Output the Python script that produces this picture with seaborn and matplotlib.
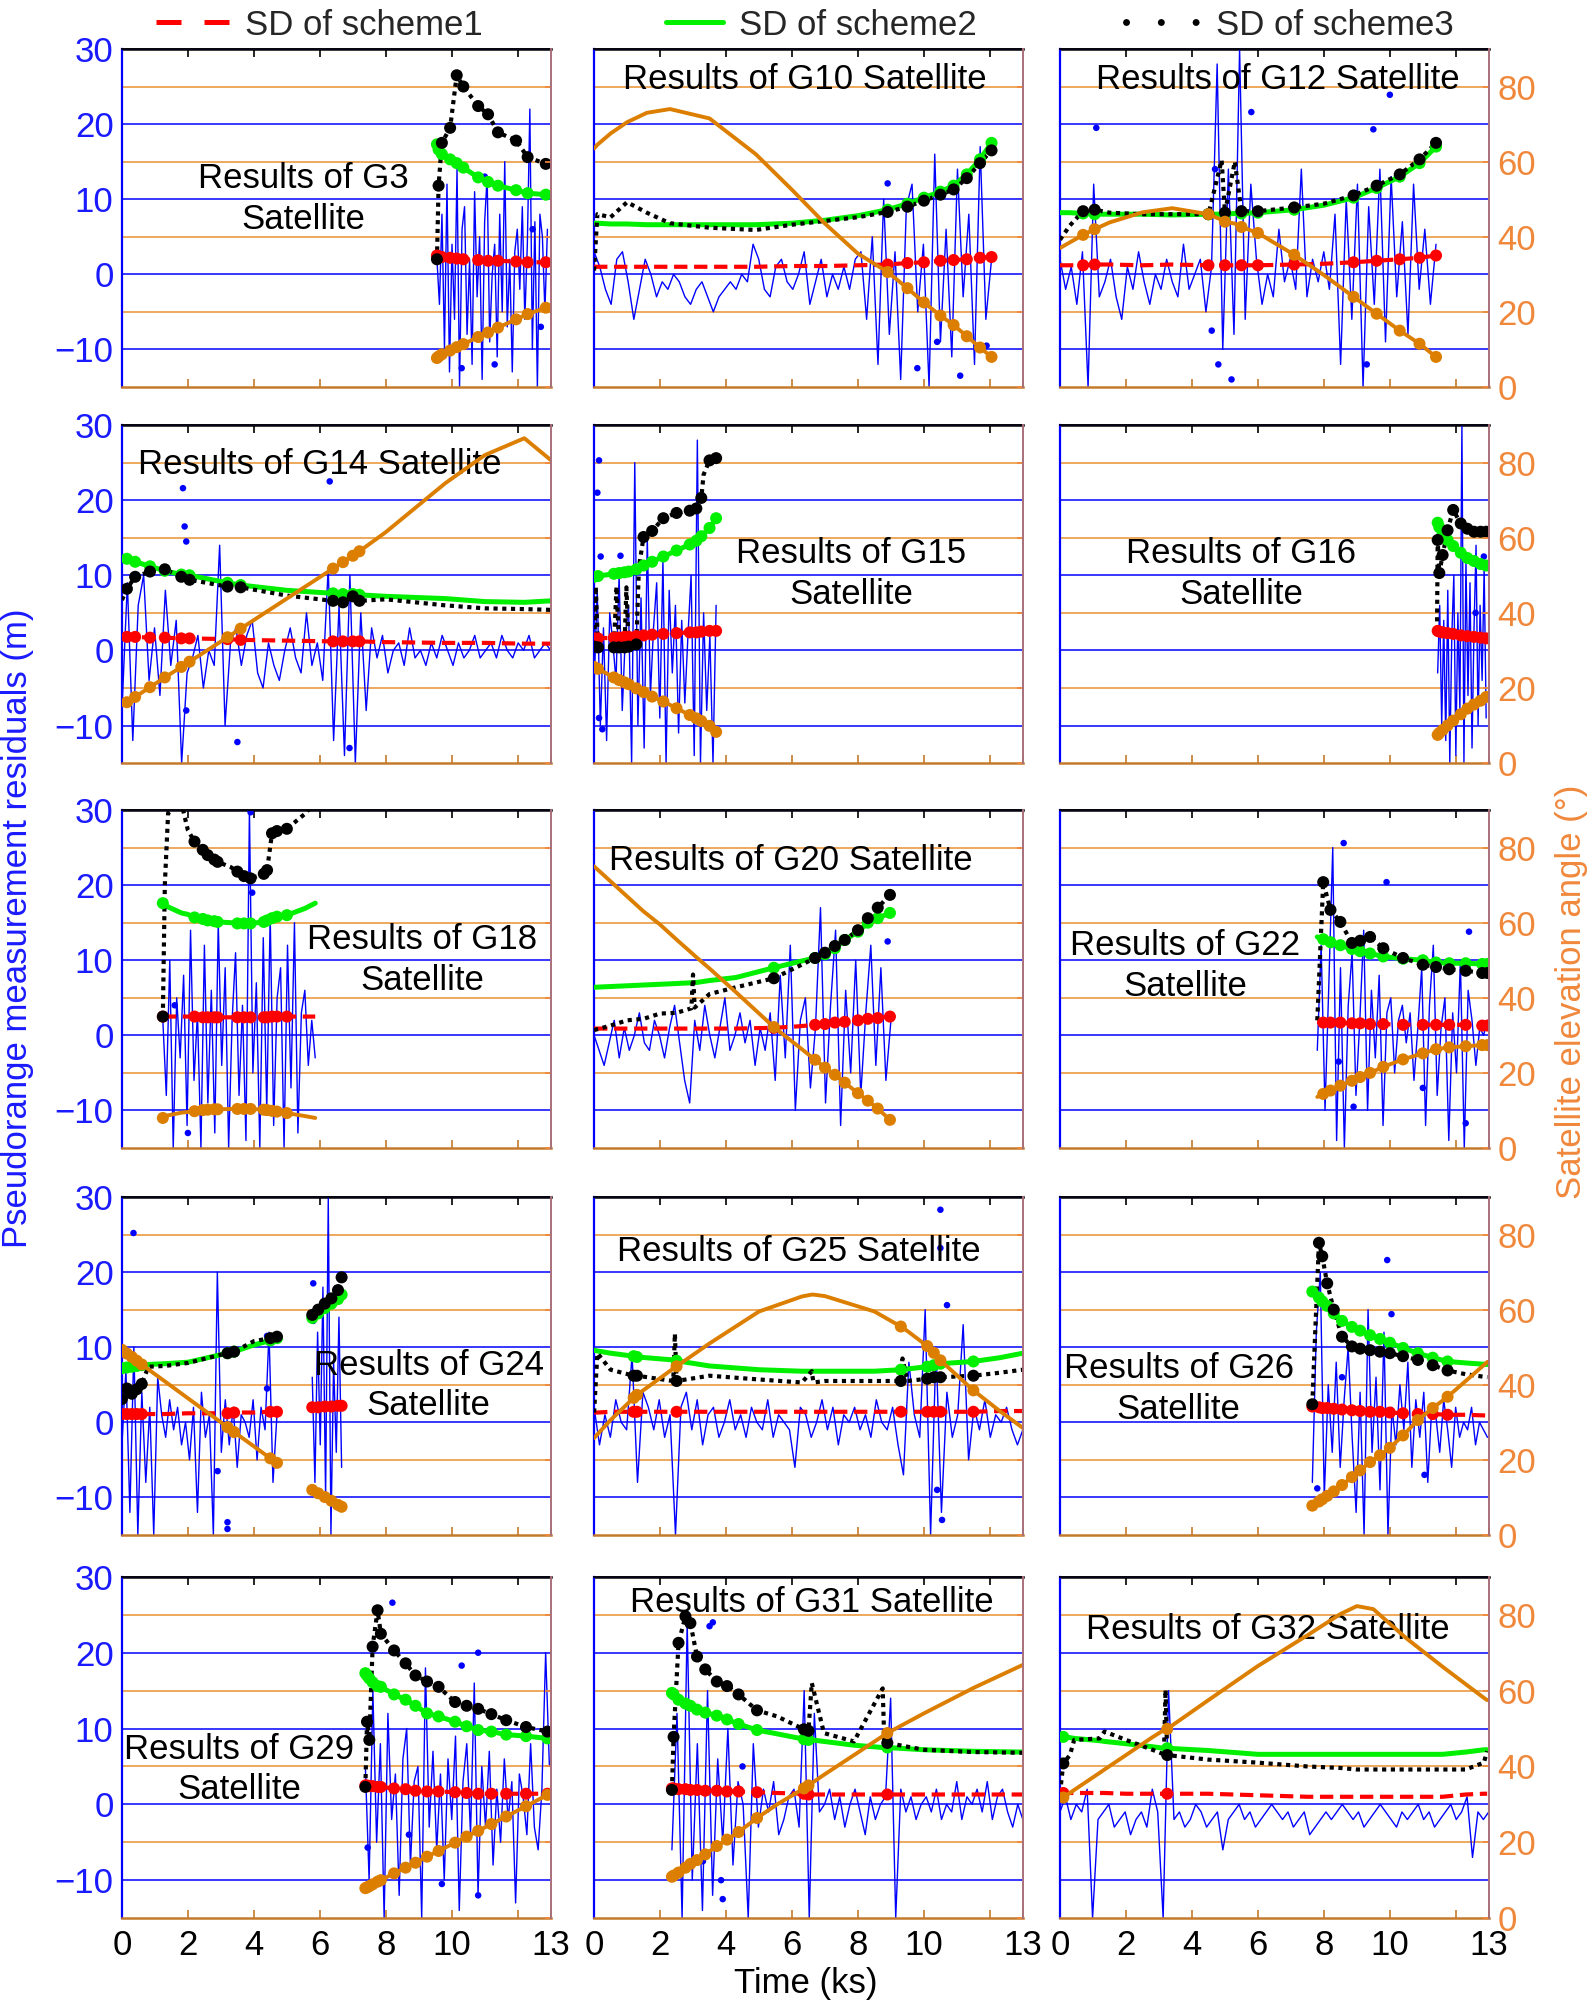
import numpy as np
import matplotlib
matplotlib.use("Agg")
import matplotlib.pyplot as plt
from matplotlib.lines import Line2D
import seaborn as sns

# ---------------------------------------------------------------- data
# knot times (ks) shared by SD curves + elevation
g3_t = [9.55, 9.6, 9.7, 9.95, 10.15, 10.35, 10.8, 11.1, 11.4, 11.95, 12.3, 12.85]
g3_sd1 = [2.5, 2.4, 2.3, 2.2, 2.1, 2.0, 1.9, 1.8, 1.8, 1.7, 1.6, 1.6]
g3_sd2 = [17.3, 16.6, 16.0, 15.3, 14.8, 14.2, 12.9, 12.3, 11.8, 11.2, 10.8, 10.6]
g3_sd3 = [2.0, 11.8, 17.5, 19.5, 26.5, 25.0, 22.4, 21.3, 18.9, 17.8, 15.6, 14.7]
g3_el = [7.7, 8.1, 8.7, 9.7, 10.6, 11.4, 13.3, 14.5, 15.8, 18.0, 19.4, 21.1]
g3_mk = [0, 1, 2, 3, 4, 5, 6, 7, 8, 9, 10, 11]
g3_span = (9.55, 12.9)
g3_res = [2, -4, 8, -10, 12, -13, 4, -6, 14, -15, 6, 9, -8, 2, -12, 11, -3, 5, -14, 7, 13,
          -9, 0, 4, -11, 8, -5, 15, -7, 2, -13, 3, 6, -2, 9, -6, 4, 22, -10, 7, -15, 8, 5, -5, 6]
g3_out_t = [10.3, 11.3, 12.45, 12.7, 11.0]
g3_out_v = [-12.5, -12.0, 6.0, -7.0, 13.0]

g10_t = [0, 0.1, 0.5, 1.0, 1.6, 2.3, 3.5, 4.9, 6.0, 7.0, 8.0, 8.9, 9.5, 10.0, 10.5, 10.9, 11.3, 11.7, 12.05]
g10_sd1 = [1.0, 1.0, 1.0, 1.0, 1.0, 1.0, 1.0, 1.0, 1.1, 1.1, 1.2, 1.3, 1.5, 1.6, 1.8, 1.9, 2.0, 2.2, 2.3]
g10_sd2 = [6.8, 6.8, 6.7, 6.7, 6.6, 6.6, 6.6, 6.6, 6.8, 7.2, 7.8, 8.6, 9.4, 10.2, 11.0, 11.8, 13.3, 15.3, 17.5]
g10_sd3 = [0.5, 8.0, 7.6, 9.6, 8.2, 6.8, 6.2, 5.9, 6.6, 7.1, 7.6, 8.3, 9.0, 9.8, 10.6, 11.3, 12.8, 14.8, 16.5]
g10_el = [63.5, 64.5, 67.5, 70.5, 73, 74, 71.5, 62, 52.5, 43.5, 35.5, 30.6, 26.3, 22.5, 19, 16.5, 13.5, 10.5, 8]
g10_mk = [11, 12, 13, 14, 15, 16, 17, 18]
g10_span = (0.0, 12.05)
g10_res = [3, 1, -2, -4, 2, 3, -1, -6, -2, 2, 0, -3, -1,
           -2, 0, -1, -3, -4, -2, -1, -3, -5, -3, -2, -1, -2, 0, -1, 4, 2, -2, -3, 1, 2, -1,
           -2, 0, 3, -4, -1, 2, -3, 0, -2, 1, -2, 2, 3,
           -6, 5, -12, 10, -8, 3, -14, 9, 12, -5, 4, -15, 16, -9, 6, -11, 14, -3, 8, -12, 17, -6, 2]
g10_out_t = [8.9, 9.8, 11.1, 11.9, 10.4]
g10_out_v = [12.1, -12.5, -13.5, -9.5, -9.0]

g12_t = [0, 0.3, 0.7, 1.05, 1.5, 2.5, 3.4, 4.5, 4.9, 5.0, 5.3, 5.5, 6.0, 7.1, 8.0, 8.9, 9.6, 10.3, 10.9, 11.4]
g12_sd1 = [1.2, 1.2, 1.2, 1.3, 1.3, 1.2, 1.3, 1.2, 1.2, 1.2, 1.2, 1.2, 1.2, 1.3, 1.4, 1.6, 1.8, 2.0, 2.2, 2.5]
g12_sd2 = [8.2, 8.2, 8.1, 8.0, 8.0, 8.0, 7.9, 8.0, 8.0, 8.0, 8.1, 8.1, 8.2, 8.6, 9.2, 10.2, 11.5, 13.0, 14.8, 17.0]
g12_sd3 = [4.6, 6.5, 8.4, 8.6, 8.2, 8.0, 8.0, 8.0, 15.2, 8.2, 15.0, 8.4, 8.4, 8.9, 9.4, 10.5, 11.8, 13.3, 15.3, 17.5]
g12_el = [37, 38.5, 40.5, 42, 43.8, 46.5, 47.6, 46, 44.5, 44, 43.5, 42.6, 41, 35.2, 29.8, 24, 19.5, 15, 11.5, 8]
g12_mk = [2, 3, 7, 9, 11, 12, 13, 15, 16, 17, 18, 19]
g12_span = (0.0, 11.4)
g12_res = [2, -2, 1, -4, 3, -15, 12, -3, -1, 2, -3, -6, 1, -2, 3, -1, -4, 0, -2, 2, -1, -3, 4, -2,
           0, 2, -5, 1, 28, -10, 14, -8, 30, -6, 12, 2, -4, 0, -3, 6, -1, 2, -2, 14, -3, 2, -1, 3,
           -2, 8, -12, 10, -6, 12, -15, 9, -4, 14, -9, 13, -3, 7, -8, 12, -2, 6, -4, 4]
g12_out_t = [1.1, 4.7, 5.8, 9.5, 10.0, 4.6, 4.8, 5.2, 9.3]
g12_out_v = [19.5, 14.0, 21.6, 19.3, 23.9, -7.5, -12.0, -14.0, -12.0]

g14_t = [0, 0.15, 0.4, 0.85, 1.3, 1.8, 2.05, 3.2, 3.6, 5.0, 6.4, 6.7, 7.0, 7.2, 8.0, 9.8, 11.0, 12.2, 13.0]
g14_sd1 = [1.8, 1.8, 1.8, 1.7, 1.7, 1.6, 1.6, 1.5, 1.4, 1.3, 1.2, 1.2, 1.2, 1.2, 1.1, 1.0, 1.0, 0.9, 0.9]
g14_sd2 = [12.4, 12.2, 11.8, 11.2, 10.6, 10.1, 10.0, 9.0, 8.7, 8.0, 7.6, 7.5, 7.5, 7.4, 7.2, 6.9, 6.5, 6.4, 6.6]
g14_sd3 = [6.7, 8.2, 9.8, 10.5, 10.8, 9.8, 9.4, 8.5, 8.4, 7.3, 6.6, 6.4, 7.2, 6.6, 6.8, 6.0, 5.6, 5.5, 5.4]
g14_el = [15.4, 16.2, 17.6, 20.2, 22.8, 25.6, 27.0, 33.5, 35.8, 43.8, 51.8, 53.5, 55.2, 56.4, 61.5, 74.5, 82, 86.5, 80.7]
g14_mk = [1, 2, 3, 4, 5, 6, 7, 8, 10, 11, 12, 13]
g14_span = (0.0, 13.0)
g14_res = [-8, 9, -12, 6, 10, -4, 3, -6, 8, -2, 4, -15,
           -3, -1, 2, -5, 0, -2, 14, -10, 1, 3, -2, 2, 4, -3, -5, 1, -2, -4, 0, 3, -1, -3, 5, -2, 1, -4,
           11, -12, 6, -14, 10, -15, 5, -8, 3,
           -1, 2, -3, 0, 1, -2, 3, -1, 0, -2, 1, -1, 2, 0, -2, 1, -1, 0, 2, -1, 0, 1, -1, 2, 0, -1, 1,
           0, 2, -1, 0, 1, 0]
g14_out_t = [1.85, 1.9, 1.95, 6.3, 3.5, 1.95, 6.9]
g14_out_v = [21.6, 16.5, 14.5, 22.5, -12.2, -8.0, -13.0]

g15_t = [0.0, 0.05, 0.12, 0.6, 0.68, 0.76, 0.92, 0.98, 1.05, 1.28, 1.36, 1.5, 1.76, 2.1, 2.5, 2.9, 3.1,
         3.25, 3.32, 3.5, 3.7]
g15_sd1 = [1.6, 1.6, 1.6, 1.7, 1.7, 1.7, 1.8, 1.8, 1.8, 1.9, 1.9, 2.0, 2.1, 2.2, 2.3, 2.4, 2.4, 2.5, 2.5, 2.6, 2.6]
g15_sd2 = [9.8, 9.8, 9.9, 10.2, 10.3, 10.3, 10.4, 10.5, 10.5, 10.8, 11.0, 11.3, 11.8, 12.5, 13.3, 14.1, 14.6,
           15.2, 15.5, 16.3, 17.6]
g15_sd3 = [0.5, 8.5, 0.4, 0.4, 8.5, 0.4, 0.4, 8.4, 0.5, 0.8, 11.1, 15.1, 15.9, 17.6, 18.3, 18.6, 18.9, 20.3,
           23.4, 25.3, 25.6]
g15_el = [25.6, 25.4, 25.1, 22.8, 22.4, 22.1, 21.5, 21.2, 21.0, 19.9, 19.6, 18.9, 17.7, 16.4, 14.6, 12.8, 11.9,
          11.2, 10.9, 9.9, 8.3]
g15_mk = [0, 2, 3, 5, 6, 8, 9, 11, 12, 13, 14, 15, 16, 17, 19, 20]
g15_span = (0.0, 3.7)
g15_res = [-5, 8, -10, 3, -12, 5, 1, -4, 10, -8, 2, 6, -15, 25, -10, 7, -13, 15, -6, 3, 9, -9, 12, -15,
           8, -3, 6, -11, 4, -7, 2, 10, -14, 28, -15, 5, -8, 2, -15, 6]
g15_out_t = [0.15, 0.1, 0.2, 0.8, 0.15, 0.25]
g15_out_v = [25.3, 21.0, 12.5, 12.6, -9.0, -10.5]

g16_t = [11.43, 11.45, 11.5, 11.6, 11.75, 11.92, 12.15, 12.35, 12.55, 12.75, 12.92]
g16_sd1 = [2.7, 2.6, 2.5, 2.4, 2.3, 2.2, 2.0, 1.9, 1.8, 1.7, 1.6]
g16_sd2 = [17.2, 17.0, 16.4, 15.5, 14.7, 13.9, 13.0, 12.3, 11.9, 11.5, 11.3]
g16_sd3 = [2.7, 14.7, 10.3, 12.7, 16.0, 18.7, 16.9, 16.2, 15.8, 15.8, 15.8]
g16_el = [7.3, 7.5, 8.0, 8.8, 10.0, 11.3, 13.0, 14.5, 15.6, 16.6, 17.6]
g16_mk = [1, 2, 3, 4, 5, 6, 7, 8, 9, 10]
g16_span = (11.45, 12.92)
g16_res = [-3, 6, -10, 4, -12, 8, -15, 2, 10, -14, 5, -8, 30, -15, 12, -6, 9, -13, 3, 14, -10, 6, -4, 11, -9]
g16_out_t = [12.85, 12.6]
g16_out_v = [12.5, 5.0]

g18_t = [1.24, 1.3, 1.4, 1.8, 2.0, 2.2, 2.45, 2.6, 2.8, 2.9, 3.3, 3.5, 3.7, 3.9, 4.3, 4.4, 4.55, 4.7, 5.0,
         5.55, 5.86]
g18_sd1 = [2.5, 2.5, 2.5, 2.5, 2.5, 2.5, 2.4, 2.4, 2.4, 2.4, 2.4, 2.4, 2.4, 2.4, 2.4, 2.4, 2.5, 2.5, 2.5, 2.5, 2.5]
g18_sd2 = [17.6, 17.4, 17.1, 16.3, 16.1, 15.7, 15.5, 15.3, 15.2, 15.1, 15.0, 14.9, 14.9, 14.9, 15.1, 15.3,
           15.6, 15.8, 16.0, 16.9, 17.6]
g18_sd3 = [2.5, 20, 29.6, 31, 27.3, 25.8, 24.7, 24.0, 23.4, 23.1, 22.4, 21.8, 21.2, 20.9, 21.5, 22.0, 26.9,
           27.2, 27.5, 29.5, 31]
g18_el = [8.0, 8.3, 8.7, 9.4, 9.6, 9.8, 10.1, 10.2, 10.3, 10.3, 10.4, 10.4, 10.4, 10.4, 10.2, 10.1, 9.9, 9.7,
          9.3, 8.5, 8.0]
g18_mk = [0, 5, 6, 7, 8, 9, 11, 12, 13, 14, 15, 16, 17, 18]
g18_span = (1.24, 5.86)
g18_res = [2, -8, 10, -15, 5, -3, 8, -12, 14, -6, 3, -15, 12, -9, 6, -13, 15, -4, 9, -15, 2, 11, -8, 4,
           -14, 30, -5, 7, -15, 13, -10, 16, -12, 5, 9, -15, 12, -7, 15, -13, 3, 6, -4, 2, -3]
g18_out_t = [3.9, 3.95, 1.6, 2.0]
g18_out_v = [29.7, 19.0, 4.0, -13.0]

g20_t = [0, 0.5, 1.0, 1.5, 2.0, 2.5, 2.95, 3.0, 3.05, 3.5, 4.3, 5.45, 6.2, 6.7, 7.0, 7.3, 7.6, 8.0, 8.3, 8.6, 8.97]
g20_sd1 = [0.9, 0.9, 0.9, 0.9, 0.9, 0.9, 0.9, 0.9, 0.9, 0.9, 0.9, 1.0, 1.2, 1.4, 1.5, 1.7, 1.8, 2.0, 2.2, 2.3, 2.5]
g20_sd2 = [6.4, 6.5, 6.6, 6.7, 6.8, 6.9, 7.0, 7.0, 7.0, 7.3, 7.7, 9.0, 9.8, 10.3, 10.8, 11.6, 12.7, 13.8,
           15.0, 15.6, 16.3]
g20_sd3 = [0.7, 1.3, 2.0, 2.2, 2.9, 3.0, 3.6, 8.1, 3.7, 5.5, 6.4, 7.6, 9.2, 10.3, 11.0, 11.9, 12.7, 14.0,
           15.6, 17.0, 18.7]
g20_el = [75, 71, 67, 63, 59.5, 55.5, 52, 51.6, 51.2, 47.8, 41.5, 32.2, 27, 23.5, 21.4, 19.5, 17.4, 14.6,
          12.6, 10.5, 7.5]
g20_mk = [11, 13, 14, 15, 16, 17, 18, 19, 20]
g20_span = (0.0, 9.0)
g20_res = [0, -2, -4, -1, 2, -3, 1, -2, 0, 3, -1, -2, 2, 0, -3, 1, 4, -1, -6, -9, 2, -2, 4, 0, -3, 1, 5,
           -2, 0, 3, -1, 2, -4, 1, -2, 3,
           -6, 8, -3, 12, -10, 2, 5, -7, 1, 17, -9, 4, 14, -12, 6, -5, 10, -8, 3, 12, -4, 9, -6, 2]
g20_out_t = [8.9]
g20_out_v = [12.5]

g22_t = [7.8, 7.98, 8.2, 8.5, 8.85, 9.1, 9.4, 9.8, 10.4, 11.0, 11.4, 11.8, 12.3, 12.8, 12.96]
g22_sd1 = [1.8, 1.7, 1.7, 1.7, 1.6, 1.6, 1.5, 1.5, 1.4, 1.4, 1.4, 1.4, 1.4, 1.3, 1.3]
g22_sd2 = [13.1, 12.8, 12.4, 12.0, 11.5, 11.2, 10.9, 10.5, 10.2, 10.0, 9.7, 9.6, 9.6, 9.5, 9.5]
g22_sd3 = [2.0, 20.4, 16.7, 15.1, 12.3, 12.6, 13.1, 11.6, 10.3, 9.4, 9.1, 8.8, 8.6, 8.3, 8.3]
g22_el = [13.6, 14.4, 15.3, 16.6, 17.9, 18.9, 20.0, 21.6, 23.6, 25.2, 26.3, 26.8, 27.1, 27.4, 27.4]
g22_mk = [1, 2, 3, 4, 5, 6, 7, 8, 9, 10, 11, 12, 13, 14]
g22_span = (7.8, 12.96)
g22_res = [-2, 12, -10, 7, 25, -14, 9, -15, 4, 11, -8, 2, 14, -10, 6, -3, 8, -12, 3, 5, -5, 2, 4, -1, 3,
           -6, 1, 9, -12, 4, 12, -8, 1, 5, -14, 3, -5, 10, -15, 6, 2, -4, 1, 0, 2]
g22_out_t = [8.6, 9.9, 12.4, 8.45, 11.0, 12.3, 8.9]
g22_out_v = [25.6, 20.4, 13.8, -3.5, -7.0, -11.7, -9.5]

nan = float("nan")
g24_t = [0, 0.15, 0.3, 0.45, 0.6, 0.8, 1.3, 2.0, 3.0, 3.2, 3.4, 4.0, 4.5, 4.7, nan,
         5.77, 5.95, 6.15, 6.35, 6.55, 6.66]
g24_sd1 = [1.1, 1.1, 1.1, 1.1, 1.1, 1.1, 1.1, 1.2, 1.2, 1.2, 1.3, 1.3, 1.4, 1.4, nan, 2.0, 2.0, 2.1, 2.1, 2.2, 2.2]
g24_sd2 = [7.2, 7.3, 7.4, 7.5, 7.6, 7.7, 7.8, 8.0, 9.0, 9.2, 9.4, 10.3, 10.9, 11.2, nan,
           13.9, 14.5, 15.2, 15.8, 16.4, 17.0]
g24_sd3 = [3.1, 4.5, 3.8, 4.4, 5.1, 7.4, 7.5, 7.9, 9.0, 9.2, 9.4, 10.8, 11.2, 11.4, nan,
           14.3, 15.0, 15.8, 16.5, 17.6, 19.3]
g24_el = [49.3, 48.3, 47.4, 46.4, 45.4, 44.1, 40.9, 36.4, 30.0, 28.7, 27.4, 23.6, 20.4, 19.2, nan,
          12.0, 11.1, 10.1, 9.1, 8.0, 7.5]
g24_mk = [0, 1, 2, 3, 4, 9, 10, 12, 13, 15, 16, 17, 18, 19, 20]
g24_span_a = (0.0, 4.7)
g24_res_a = [-3, 7, -12, 10, -15, 4, -8, 2, -15, 6, 1, -2, 3, -1, 2, -3, 0, -5, 2, -12, 4, -2, 1, -15, 20,
             -4, 3, -3, 2, -6, 1, 0, -2, 3, -5, 2, -1, 12, -8, 1]
g24_span_b = (5.77, 6.66)
g24_res_b = [6, -8, 12, -3, 18, -10, 30, -15, 8, -4, 14, -6]
g24_out_t = [0.35, 4.4, 4.4, 3.2, 3.2, 5.8, 5.8, 2.9]
g24_out_v = [25.2, 11.5, 4.5, -13.3, -14.2, 18.5, 13.5, -6.5]

g25_t = [0, 0.1, 0.5, 1.2, 1.3, 2.4, 2.45, 2.5, 3.5, 5.0, 6.3, 6.6, 6.65, 7.0, 8.5, 9.3, 9.35, 9.5, 10.1,
         10.3, 10.5, 11.5, 12.3, 13.0]
g25_sd1 = [1.3, 1.3, 1.4, 1.4, 1.4, 1.4, 1.4, 1.4, 1.4, 1.4, 1.4, 1.4, 1.4, 1.4, 1.4, 1.4, 1.4, 1.4, 1.4,
           1.4, 1.4, 1.4, 1.5, 1.5]
g25_sd2 = [9.6, 9.5, 9.2, 8.8, 8.7, 8.3, 8.3, 8.2, 7.5, 7.0, 6.8, 6.8, 6.8, 6.8, 6.8, 7.0, 7.0, 7.1, 7.4,
           7.6, 7.8, 8.1, 8.6, 9.2]
g25_sd3 = [1.3, 9.2, 7.0, 6.2, 6.2, 5.5, 11.8, 5.5, 6.2, 5.7, 5.3, 6.8, 5.3, 5.5, 5.5, 5.5, 8.5, 5.5, 5.8,
           6.0, 6.0, 6.2, 6.6, 7.0]
g25_el = [25.8, 26.8, 30.6, 36.5, 37.3, 44.3, 44.6, 44.9, 51.0, 59.5, 63.5, 64.0, 64.0, 63.6, 59.5, 55.5,
          55.2, 54.3, 50.3, 48.5, 46.5, 38.5, 33.0, 28.5]
g25_mk = [3, 4, 7, 15, 18, 19, 20, 21]
g25_span = (0.0, 13.0)
g25_res = [2, -3, 1, -2, 3, 0, -1, 9, -8, 4, 2, -1, 3, -2, 1, -15, 2, 4, -1, 3, -3, 1, 2, -2, 0, 3, -1, 1,
           -2, 2, 0, -1, 3, -2, 1, 0, -1, -6, 2, 1, -2, 0, 3, -1, 2, -3, 1, 0, 2, -1, 1, -2, 3, 0, -1, 2,
           -3, -7, 8, 1, -2, 15, -15, 10, -12, 4, -2, 1, 13, -5, 2, -1, 3, -2, 1, 0, 2, -1, -3, -1]
g25_out_t = [10.5, 10.5, 10.7, 10.4, 10.55]
g25_out_v = [28.3, 23.2, 15.6, -9.0, -13.0]

g26_t = [7.65, 7.7, 7.85, 7.95, 8.1, 8.3, 8.55, 8.85, 9.1, 9.4, 9.7, 10.0, 10.4, 10.85, 11.3, 11.75, 12.3, 12.96]
g26_sd1 = [2.1, 2.0, 2.0, 1.9, 1.9, 1.8, 1.7, 1.6, 1.5, 1.4, 1.4, 1.3, 1.2, 1.1, 1.1, 1.0, 1.0, 0.9]
g26_sd2 = [17.4, 17.2, 16.6, 16.1, 15.5, 14.5, 13.5, 12.7, 12.2, 11.6, 11.1, 10.6, 9.9, 9.2, 8.6, 8.1, 7.9, 7.7]
g26_sd3 = [2.4, 8.0, 23.9, 22.1, 18.5, 15.0, 11.4, 10.1, 9.8, 9.6, 9.4, 9.2, 8.8, 8.3, 7.6, 6.9, 6.4, 6.0]
g26_el = [7.8, 8.0, 8.9, 9.5, 10.4, 11.6, 13.3, 15.4, 17.2, 19.4, 21.2, 23.2, 26.5, 30.6, 33.8, 36.8, 41.0, 46.1]
g26_mk = [0, 2, 3, 4, 5, 6, 7, 8, 9, 10, 11, 12, 13, 14, 15]
g26_span = (7.65, 12.96)
g26_res = [-8, 12, 20, -10, 5, -4, 8, -6, 3, 10, -2, -12, 4, -15, 15, -4, 6, -9, 12, -15, 2, -3, 5, -1, 8,
           -6, 3, -2, 4, -8, 2, 1, -4, 3, -1, -6, 2, -2, 0, -1, 2, -3, 0, -1, -2]
g26_out_t = [7.8, 9.92, 10.05, 11.05, 8.55]
g26_out_v = [-8.8, 21.6, 14.4, -7.0, 6.0]

g29_t = [7.38, 7.43, 7.5, 7.6, 7.75, 7.85, 8.25, 8.6, 8.9, 9.25, 9.6, 10.1, 10.45, 10.8, 11.2, 11.65, 12.25, 12.9]
g29_sd1 = [2.5, 2.5, 2.4, 2.4, 2.3, 2.3, 2.1, 2.0, 1.8, 1.7, 1.7, 1.6, 1.5, 1.4, 1.4, 1.4, 1.4, 1.4]
g29_sd2 = [17.3, 17.0, 16.6, 16.1, 15.6, 15.5, 14.5, 13.8, 13.0, 12.0, 11.6, 10.9, 10.3, 9.8, 9.6, 9.2, 9.0, 8.7]
g29_sd3 = [2.3, 10.9, 8.5, 20.8, 25.6, 22.5, 20.3, 18.6, 17.0, 16.2, 15.5, 13.5, 13.0, 12.6, 11.9, 11.1, 10.2, 9.6]
g29_el = [7.9, 8.1, 8.4, 8.9, 9.6, 10.0, 11.8, 13.3, 14.6, 16.2, 17.7, 19.9, 21.5, 23.0, 24.8, 26.8, 29.5, 32.5]
g29_mk = [0, 1, 2, 3, 4, 5, 6, 7, 8, 9, 10, 11, 12, 13, 14, 15, 16, 17]
g29_span = (7.38, 12.96)
g29_res = [5, -10, 15, -5, 8, -15, 12, -2, 4, -12, 6, 10, -8, 3, 5, -15, 18, -3, 7, -6, 4, -10, 6, -2, 9,
           -14, 3, 8, -4, 16, -12, 5, -3, 7, -8, 2, -5, 6, -2, 3, -13, 4, 1, -4, 8, -3, -6, 2, 20, 5]
g29_out_t = [8.2, 10.3, 10.8, 10.8, 7.45, 8.7, 9.7]
g29_out_v = [26.6, 18.3, 20.0, -12.0, -5.7, -4.0, -10.5]

g31_t = [2.36, 2.41, 2.56, 2.77, 2.92, 3.12, 3.37, 3.72, 4.03, 4.38, 4.94, 5.55, 6.36, 6.5, 6.6, 6.97, 7.88,
         8.75, 8.8, 8.89, 10.0, 11.5, 13.0]
g31_sd1 = [2.1, 2.1, 2.0, 2.0, 1.9, 1.9, 1.8, 1.8, 1.7, 1.7, 1.6, 1.5, 1.4, 1.3, 1.3, 1.3, 1.3, 1.3, 1.3,
           1.3, 1.3, 1.3, 1.3]
g31_sd2 = [14.7, 14.5, 13.8, 13.3, 13.0, 12.5, 12.1, 11.7, 11.2, 10.6, 9.8, 9.3, 8.6, 8.5, 8.5, 8.3, 7.8,
           7.5, 7.5, 7.5, 7.2, 7.0, 6.9]
g31_sd3 = [1.9, 8.9, 21.3, 24.8, 23.9, 19.5, 17.8, 16.2, 15.6, 14.5, 12.4, 11.6, 9.9, 9.7, 16.0, 9.4, 8.3,
           15.3, 8.2, 8.1, 7.2, 6.9, 6.8]
g31_el = [10.9, 11.2, 12.0, 13.3, 14.3, 15.3, 16.8, 19.0, 20.7, 22.7, 26.4, 30.0, 34.2, 35.0, 35.6, 37.8,
          43.0, 48.0, 48.3, 48.8, 54.0, 60.7, 66.8]
g31_mk = [0, 1, 2, 3, 4, 5, 6, 7, 8, 9, 10, 12, 13, 19]
g31_span = (2.36, 13.0)
g31_res = [-6, 12, -15, 24, -10, 8, -14, 15, -12, 6, -5, 10,
           -8, 3, 0, -15, 8, -3, 2, -1, 3, -4, -2, 1, 2, -3,
           15, -15, 12,
           -1, 0, 2, -2, 1, -3, 0, 2, -1, -4, 1, -2, 0, 1,
           14, -15,
           2, -1, 1, -2, 0, 1, -1, 2, -2, 0, -1, 3, -2, 1, 0, 2, -1, 3, -2, 1, 2, -1, -3, 0, -2]
g31_out_t = [3.5, 3.6, 3.3, 3.85, 3.9, 4.5, 3.45]
g31_out_v = [23.5, 24.0, -7.5, -10.0, -12.5, 5.0, 2.0]

g32_t = [0, 0.1, 0.3, 0.43, 1.2, 1.35, 2.0, 2.8, 3.15, 3.2, 3.25, 4.5, 6.0, 7.5, 8.5, 9.0, 9.5, 10.5, 11.6,
         12.3, 12.85, 12.95]
g32_sd1 = [1.5, 1.5, 1.5, 1.5, 1.5, 1.5, 1.4, 1.4, 1.4, 1.4, 1.4, 1.4, 1.2, 1.0, 1.0, 1.0, 1.0, 1.0, 1.0,
           1.3, 1.4, 1.4]
g32_sd2 = [8.9, 8.9, 8.8, 8.7, 8.4, 8.3, 8.0, 7.6, 7.4, 7.4, 7.4, 7.1, 6.6, 6.6, 6.6, 6.6, 6.6, 6.6, 6.6,
           6.9, 7.2, 7.2]
g32_sd3 = [1.5, 5.4, 6.5, 8.5, 8.7, 9.6, 8.5, 7.2, 6.6, 15.1, 6.5, 5.9, 5.5, 5.0, 4.8, 4.6, 4.6, 4.6, 4.6,
           4.6, 5.5, 7.0]
g32_el = [31.2, 31.8, 33.0, 33.8, 38.3, 39.2, 43.0, 47.7, 49.6, 49.6, 49.9, 57.5, 66.5, 74.6, 80.2, 82.3,
          81.5, 73.8, 66.3, 61.7, 58.1, 57.5]
g32_mk = [1, 10]
g32_span = (0.0, 13.0)
g32_res = [-1, 1, -2, 0, -1, 2, -15, -2, -1, 0, -3, -2, -1, -4, -2, -1, -3, 2, -1, -15, 15, -2, -1, -3, -2,
           0, -1, -3, -2, -1, -6, -2, -1, 0, -2, -1, -3, -2, -1, 0, -1, -2, -1, -3, -2, -1, -4, -3, -2, -1,
           -2, -1, 0, -1, -2, -1, -3, -2, -1, 0, -1, -2, -3, -1, -2, -1, 0, -2, -1, -3, -2, -1, 0, -2, -1,
           1, -7, -1, -2, -1]
g32_out_t = []
g32_out_v = []

x_ticks = [0, 2, 4, 6, 8, 10, 12, 13]
x_labels = ["0", "2", "4", "6", "8", "10", "", "13"]
res_ticks = [-10, 0, 10, 20, 30]
elev_ticks = [0, 20, 40, 60, 80]
legend_labels = ["SD of scheme1", "SD of scheme2", "SD of scheme3"]

panels = [
    dict(t=g3_t, sd1=g3_sd1, sd2=g3_sd2, sd3=g3_sd3, el=g3_el, mk=g3_mk,
         res=[(g3_span, g3_res)], out=(g3_out_t, g3_out_v), lab="Results of G3\nSatellite", at=(5.5, 10.0)),
    dict(t=g10_t, sd1=g10_sd1, sd2=g10_sd2, sd3=g10_sd3, el=g10_el, mk=g10_mk,
         res=[(g10_span, g10_res)], out=(g10_out_t, g10_out_v), lab="Results of G10 Satellite", at=(6.4, 25.9)),
    dict(t=g12_t, sd1=g12_sd1, sd2=g12_sd2, sd3=g12_sd3, el=g12_el, mk=g12_mk,
         res=[(g12_span, g12_res)], out=(g12_out_t, g12_out_v), lab="Results of G12 Satellite", at=(6.6, 25.9)),
    dict(t=g14_t, sd1=g14_sd1, sd2=g14_sd2, sd3=g14_sd3, el=g14_el, mk=g14_mk,
         res=[(g14_span, g14_res)], out=(g14_out_t, g14_out_v), lab="Results of G14 Satellite", at=(6.0, 24.7)),
    dict(t=g15_t, sd1=g15_sd1, sd2=g15_sd2, sd3=g15_sd3, el=g15_el, mk=g15_mk,
         res=[(g15_span, g15_res)], out=(g15_out_t, g15_out_v), lab="Results of G15\nSatellite", at=(7.8, 10.2)),
    dict(t=g16_t, sd1=g16_sd1, sd2=g16_sd2, sd3=g16_sd3, el=g16_el, mk=g16_mk,
         res=[(g16_span, g16_res)], out=(g16_out_t, g16_out_v), lab="Results of G16\nSatellite", at=(5.5, 10.2)),
    dict(t=g18_t, sd1=g18_sd1, sd2=g18_sd2, sd3=g18_sd3, el=g18_el, mk=g18_mk,
         res=[(g18_span, g18_res)], out=(g18_out_t, g18_out_v), lab="Results of G18\nSatellite", at=(9.1, 10.0)),
    dict(t=g20_t, sd1=g20_sd1, sd2=g20_sd2, sd3=g20_sd3, el=g20_el, mk=g20_mk,
         res=[(g20_span, g20_res)], out=(g20_out_t, g20_out_v), lab="Results of G20 Satellite", at=(5.95, 23.3)),
    dict(t=g22_t, sd1=g22_sd1, sd2=g22_sd2, sd3=g22_sd3, el=g22_el, mk=g22_mk,
         res=[(g22_span, g22_res)], out=(g22_out_t, g22_out_v), lab="Results of G22\nSatellite", at=(3.8, 9.2)),
    dict(t=g24_t, sd1=g24_sd1, sd2=g24_sd2, sd3=g24_sd3, el=g24_el, mk=g24_mk,
         res=[(g24_span_a, g24_res_a), (g24_span_b, g24_res_b)], out=(g24_out_t, g24_out_v),
         lab="Results of G24\nSatellite", at=(9.3, 4.9)),
    dict(t=g25_t, sd1=g25_sd1, sd2=g25_sd2, sd3=g25_sd3, el=g25_el, mk=g25_mk,
         res=[(g25_span, g25_res)], out=(g25_out_t, g25_out_v), lab="Results of G25 Satellite", at=(6.2, 22.8)),
    dict(t=g26_t, sd1=g26_sd1, sd2=g26_sd2, sd3=g26_sd3, el=g26_el, mk=g26_mk,
         res=[(g26_span, g26_res)], out=(g26_out_t, g26_out_v), lab="Results of G26\nSatellite", at=(3.6, 4.4)),
    dict(t=g29_t, sd1=g29_sd1, sd2=g29_sd2, sd3=g29_sd3, el=g29_el, mk=g29_mk,
         res=[(g29_span, g29_res)], out=(g29_out_t, g29_out_v), lab="Results of G29\nSatellite", at=(3.55, 4.6)),
    dict(t=g31_t, sd1=g31_sd1, sd2=g31_sd2, sd3=g31_sd3, el=g31_el, mk=g31_mk,
         res=[(g31_span, g31_res)], out=(g31_out_t, g31_out_v), lab="Results of G31 Satellite", at=(6.6, 26.6)),
    dict(t=g32_t, sd1=g32_sd1, sd2=g32_sd2, sd3=g32_sd3, el=g32_el, mk=g32_mk,
         res=[(g32_span, g32_res)], out=(g32_out_t, g32_out_v), lab="Results of G32 Satellite", at=(6.3, 23.1)),
]

# ---------------------------------------------------------------- style
BLUE = "#0000FF"
TICK_BLUE = "#1A1AFF"
RED = "#FF0000"
GREEN = "#00F000"
ORANGE = "#DC7F00"
ORANGE_TXT = "#F0883C"
ORANGE_GRID = "#EBA250"
BROWN = "#C47A2C"
FS = 25

sns.set_theme(style="white")
plt.rcParams["font.family"] = ["Liberation Sans", "DejaVu Sans"]

col_left = [0.0765, 0.3727, 0.665]
col_w = 0.269
row_bottom = [0.8072, 0.6198, 0.4280, 0.2352, 0.0443]
row_h = [0.1684, 0.1684, 0.1684, 0.1684, 0.1700]

SD_STYLES = [
    ("sd1", RED, (0, (3.2, 1.6)), 3.0),
    ("sd2", GREEN, "-", 3.6),
    ("sd3", "black", (0, (1, 1.1)), 3.0),
]


def runs(t, v):
    """split a knot series into contiguous runs (nan = gap)"""
    t = np.asarray(t, float)
    v = np.asarray(v, float)
    cuts = list(np.where(np.isnan(t))[0]) + [len(t)]
    out, start = [], 0
    for c in cuts:
        if c > start:
            out.append((t[start:c], v[start:c]))
        start = c + 1
    return out


def draw_panel(ax, p, row, col):
    ax2 = ax.twinx()
    t = np.asarray(p["t"], float)
    mk = p["mk"]

    # residuals
    for (t0, t1), res in p["res"]:
        x = np.linspace(t0, t1, len(res))
        sns.lineplot(x=x, y=res, ax=ax, color=BLUE, linewidth=1.0, sort=False, estimator=None, zorder=2)
    if len(p["out"][0]):
        sns.scatterplot(x=p["out"][0], y=p["out"][1], ax=ax, color=BLUE, s=22, edgecolor="none", zorder=2)

    # SD curves
    for key, color, ls, lw in SD_STYLES:
        v = np.asarray(p[key], float)
        for tt, vv in runs(t, v):
            sns.lineplot(x=tt, y=vv, ax=ax, color=color, linestyle=ls, linewidth=lw,
                         sort=False, estimator=None, zorder=3)
        sns.scatterplot(x=t[mk], y=v[mk], ax=ax, color=color, s=75, edgecolor="none", zorder=4)

    # elevation on right axis
    el = np.asarray(p["el"], float)
    for tt, vv in runs(t, el):
        sns.lineplot(x=tt, y=vv, ax=ax2, color=ORANGE, linewidth=2.8, sort=False, estimator=None)
    sns.scatterplot(x=t[mk], y=el[mk], ax=ax2, color=ORANGE, s=75, edgecolor="none")

    ax.text(p["at"][0], p["at"][1], p["lab"], ha="center", va="center", fontsize=FS,
            color="black", linespacing=1.3, zorder=6)

    # axes cosmetics
    ax.set_xlim(0, 13)
    ax.set_ylim(-15, 30)
    ax2.set_ylim(0, 90)
    ax.set_xlabel("")
    ax.set_ylabel("")
    ax2.set_ylabel("")

    ax.set_yticks(res_ticks)
    ax.set_yticks([-5, 5, 15, 25], minor=True)
    ax.grid(axis="y", which="major", color="#2828FF", linewidth=1.3)
    ax.grid(axis="y", which="minor", color=ORANGE_GRID, linewidth=1.3)
    ax.grid(axis="x", visible=False)
    ax.set_axisbelow(True)
    ax.tick_params(axis="y", which="both", length=0, labelsize=FS, labelcolor=TICK_BLUE,
                   labelleft=(col == 0), pad=6)

    ax.set_xticks(x_ticks)
    ax.set_xticklabels(x_labels if row == 4 else [""] * len(x_ticks))
    ax.tick_params(axis="x", direction="in", length=6, width=1.2, color=BROWN,
                   labelsize=FS, labelcolor="black", pad=8, bottom=True)
    top = ax.secondary_xaxis("top")
    top.set_xticks(x_ticks[:-1])
    top.set_xticklabels([])
    top.tick_params(direction="in", length=6, width=1.2, color="black")
    top.spines["top"].set_color("black")
    top.spines["top"].set_linewidth(1.8)

    ax2.set_yticks(elev_ticks)
    ax2.tick_params(axis="y", direction="in", length=4, color=ORANGE_TXT, labelsize=FS,
                    labelcolor=ORANGE_TXT, labelright=(col == 2), pad=6)

    for s in ["top", "bottom", "left"]:
        ax2.spines[s].set_visible(False)
    ax.spines["right"].set_visible(False)
    ax.spines["left"].set_color(BLUE)
    ax.spines["left"].set_linewidth(1.6)
    ax.spines["bottom"].set_color(BROWN)
    ax.spines["bottom"].set_linewidth(1.8)
    ax.spines["top"].set_color("black")
    ax2.spines["right"].set_color("#A8707A")
    ax2.spines["right"].set_linewidth(1.4)


fig = plt.figure(figsize=(15.94, 20.07), dpi=100)
for i, p in enumerate(panels):
    r, c = divmod(i, 3)
    ax = fig.add_axes([col_left[c], row_bottom[r], col_w, row_h[r]])
    draw_panel(ax, p, r, c)

fig.text(0.011, 0.5376, "Pseudorange measurement residuals (m)", rotation=90, color=TICK_BLUE,
         fontsize=FS, ha="center", va="center")
fig.text(0.986, 0.5057, "Satellite elevation angle (°)", rotation=90, color=ORANGE_TXT,
         fontsize=FS, ha="center", va="center")
fig.text(0.5056, 0.0115, "Time (ks)", color="black", fontsize=FS, ha="center", va="center")

# legend: three single-entry legends spread across the top
legend_handles = [
    Line2D([], [], color=RED, linestyle=(0, (5.0, 4.6)), linewidth=3.6),
    Line2D([], [], color=GREEN, linestyle="-", linewidth=3.6),
    Line2D([], [], color="black", linestyle=(0, (0.01, 5.0)), linewidth=5.0, dash_capstyle="round"),
]
legend_x = [0.0979, 0.4178, 0.7064]
legend_len = [2.1, 1.65, 2.15]
for h, lab, x, hl in zip(legend_handles, legend_labels, legend_x, legend_len):
    fig.legend([h], [lab], loc="center left", bbox_to_anchor=(x, 0.9875), frameon=False,
               fontsize=FS, handlelength=hl, handletextpad=0.45, borderpad=0, borderaxespad=0)

fig.savefig("out.png", dpi=100)
